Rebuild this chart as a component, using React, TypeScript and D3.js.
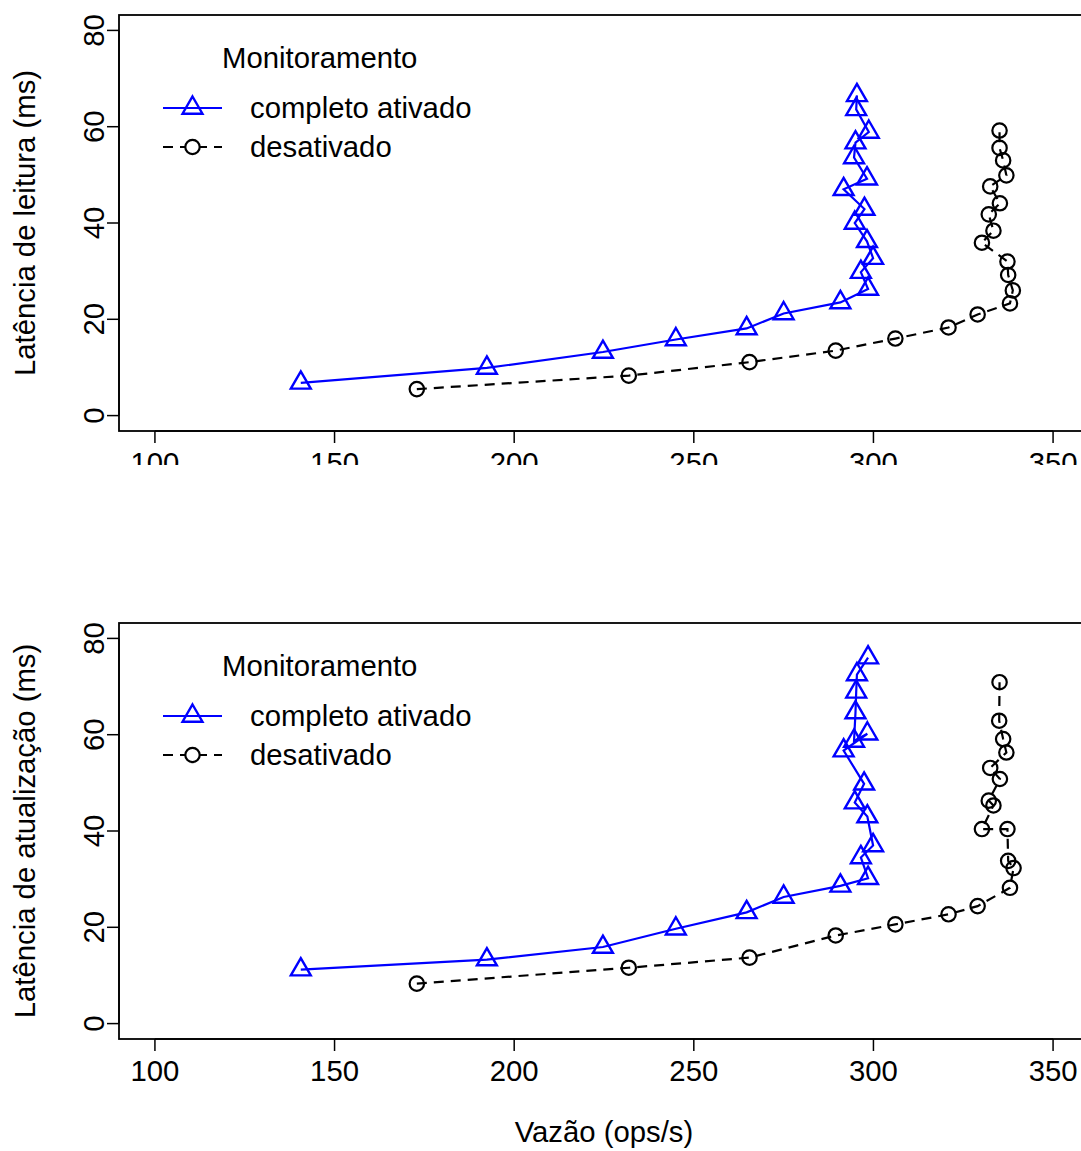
import React from 'react'
import * as d3 from 'd3'

// eixo x: vazão (ops/s), eixo y: latência (ms)
const xTicks = [100, 150, 200, 250, 300, 350]
const yTicks = [0, 20, 40, 60, 80]
const legendTitle = 'Monitoramento'
const seriesNames = ['completo ativado', 'desativado']

// leitura, monitoramento completo ativado
const readOnX = [140.6, 192.4, 224.7, 245.0, 264.7, 275.0, 290.8, 298.5, 296.5, 299.9, 298.2, 294.8, 297.5, 291.7, 298.2, 294.6, 295.0, 298.7, 295.2, 295.4]
const readOnY = [6.8, 9.9, 13.2, 15.8, 18.1, 21.2, 23.5, 26.3, 29.8, 32.7, 36.2, 40.0, 42.9, 47.0, 49.2, 53.6, 56.7, 58.9, 63.6, 66.5]
// leitura, desativado
const readOffX = [172.9, 231.9, 265.5, 289.5, 306.1, 320.9, 329.0, 338.0, 338.8, 337.5, 337.3, 330.2, 333.4, 332.1, 335.2, 332.5, 337.0, 336.1, 335.1, 335.1]
const readOffY = [5.5, 8.3, 11.1, 13.5, 16.0, 18.3, 21.0, 23.3, 26.0, 29.2, 32.0, 35.9, 38.4, 41.8, 44.1, 47.6, 49.9, 53.0, 55.6, 59.2]

// atualização, monitoramento completo ativado
const updOnX = [140.6, 192.4, 224.7, 245.0, 264.7, 275.0, 290.8, 298.5, 296.5, 299.9, 298.3, 294.8, 297.4, 291.7, 298.3, 294.6, 295.0, 295.2, 295.4, 298.5]
const updOnY = [11.2, 13.3, 15.9, 19.7, 23.1, 26.3, 28.6, 30.2, 34.5, 37.0, 43.0, 45.9, 49.8, 56.7, 60.2, 58.7, 64.6, 68.9, 72.5, 76.0]
// atualização, desativado
const updOffX = [172.9, 231.9, 265.5, 289.5, 306.1, 320.9, 329.0, 338.0, 339.0, 337.5, 337.3, 330.2, 333.4, 332.1, 335.2, 332.5, 337.0, 336.1, 335.0, 335.1]
const updOffY = [8.3, 11.6, 13.7, 18.3, 20.6, 22.7, 24.4, 28.2, 32.3, 33.8, 40.4, 40.4, 45.3, 46.3, 50.8, 53.1, 56.3, 59.1, 62.9, 70.9]

const zip = (xs: number[], ys: number[]) => xs.map((x, i) => [x, ys[i]] as [number, number])

const panels = [
  {id: 'leitura', label: 'Latência de leitura (ms)', on: zip(readOnX, readOnY), off: zip(readOffX, readOffY), top: 15, clip: 465},
  {id: 'atualizacao', label: 'Latência de atualização (ms)', on: zip(updOnX, updOnY), off: zip(updOffX, updOffY), top: 623, clip: null},
]

const FONT = '"Liberation Sans", Arial, Helvetica, sans-serif'
const FS = 29.3
const BLUE = '#0000ff'
const LEFT = 119
const RIGHT = 1089
const PH = 416
const DASH = '10 7'

// triângulo no formato do pch=2 do R
const tri = (s: number) => {
  const r = 1.5551 * s, xc = 1.3468 * s, yc = 0.7776 * s
  return `M0,${-r}L${xc},${yc}L${-xc},${yc}Z`
}
const TRI = tri(7.4)
const CR = 7.2

function Panel({panel}: {panel: typeof panels[number]}) {
  const {top, label, on, off, id, clip} = panel
  const bottom = top + PH
  const x = d3.scaleLinear().domain([90, 360]).range([LEFT, RIGHT])
  const y = d3.scaleLinear().domain([-3.2, 83.2]).range([bottom, top])
  const line = d3.line<[number, number]>().x(d => x(d[0])).y(d => y(d[1]))
  const midY = (top + bottom) / 2

  const body = <g>
    <rect x={LEFT} y={top} width={RIGHT - LEFT} height={PH} fill="none" stroke="black" strokeWidth={1.8} />
    {/* eixo y */}
    <line x1={LEFT} x2={LEFT} y1={y(0)} y2={y(80)} stroke="black" strokeWidth={1.5} />
    {yTicks.map(t => <g key={t}>
      <line x1={LEFT - 12} x2={LEFT} y1={y(t)} y2={y(t)} stroke="black" strokeWidth={1.5} />
      <text transform={`translate(104,${y(t)}) rotate(-90)`} textAnchor="middle">{t}</text>
    </g>)}
    {/* eixo x */}
    <line x1={x(100)} x2={x(350)} y1={bottom} y2={bottom} stroke="black" strokeWidth={1.5} />
    {xTicks.map(t => <g key={t}>
      <line x1={x(t)} x2={x(t)} y1={bottom} y2={bottom + 12} stroke="black" strokeWidth={1.5} />
      <text x={x(t)} y={bottom + 42} textAnchor="middle">{t}</text>
    </g>)}
    <text transform={`translate(35,${midY}) rotate(-90)`} textAnchor="middle">{label}</text>

    {/* séries */}
    <path d={line(off) || ''} fill="none" stroke="black" strokeWidth={2.2} strokeDasharray={DASH} />
    {off.map((d, i) => <circle key={i} cx={x(d[0])} cy={y(d[1])} r={CR} fill="none" stroke="black" strokeWidth={2.2} />)}
    <path d={line(on) || ''} fill="none" stroke={BLUE} strokeWidth={2.2} />
    {on.map((d, i) => <path key={i} d={TRI} transform={`translate(${x(d[0])},${y(d[1])})`} fill="none" stroke={BLUE} strokeWidth={2.4} />)}

    {/* legenda */}
    <text x={222} y={top + 53}>{legendTitle}</text>
    <line x1={163} x2={222} y1={top + 93} y2={top + 93} stroke={BLUE} strokeWidth={2.2} />
    <path d={TRI} transform={`translate(192.5,${top + 93})`} fill="none" stroke={BLUE} strokeWidth={2.4} />
    <text x={250} y={top + 103}>{seriesNames[0]}</text>
    <line x1={163} x2={222} y1={top + 132} y2={top + 132} stroke="black" strokeWidth={2.2} strokeDasharray={DASH} />
    <circle cx={192.5} cy={top + 132} r={CR} fill="white" stroke="black" strokeWidth={2.2} />
    <text x={250} y={top + 142}>{seriesNames[1]}</text>
  </g>

  if (clip == null) return body
  return <g>
    <defs>
      <clipPath id={`clip-${id}`}>
        <rect x={0} y={0} width={1081} height={clip} />
      </clipPath>
    </defs>
    <g clipPath={`url(#clip-${id})`}>{body}</g>
  </g>
}

export default function App() {
  return <>
    <style>{'body{margin:0}'}</style>
    <svg width={1081} height={1151} style={{display: 'block', background: 'white'}}
      fontFamily={FONT} fontSize={FS} fill="black">
      {panels.map(p => <Panel key={p.id} panel={p} />)}
      <text x={(LEFT + RIGHT) / 2} y={1142} textAnchor="middle">Vazão (ops/s)</text>
    </svg>
  </>
}
